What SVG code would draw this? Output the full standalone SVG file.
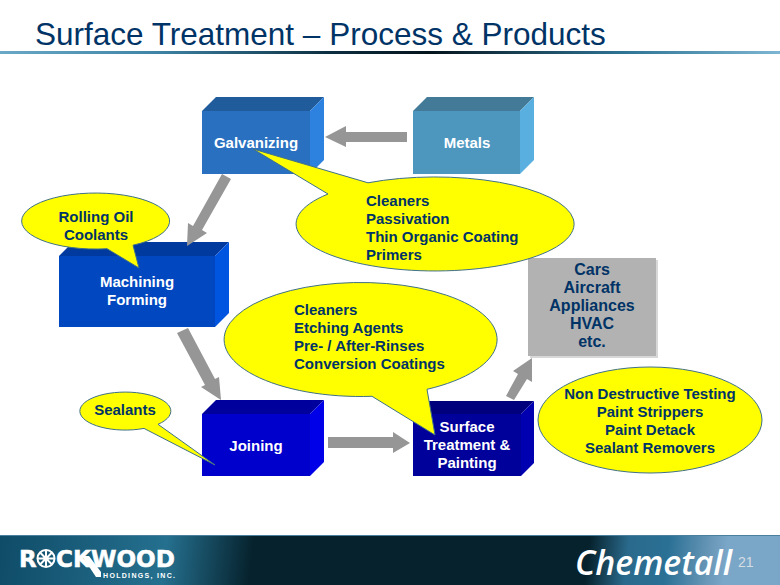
<svg xmlns="http://www.w3.org/2000/svg" width="780" height="585" viewBox="0 0 780 585">
  <defs>
    <linearGradient id="rule" x1="0" y1="0" x2="1" y2="0">
      <stop offset="0" stop-color="#6aa8c6"/>
      <stop offset="0.2" stop-color="#3f84a6"/>
      <stop offset="0.42" stop-color="#0c2f42"/>
      <stop offset="0.55" stop-color="#05141c"/>
      <stop offset="0.8" stop-color="#2f7495"/>
      <stop offset="1" stop-color="#7db6d2"/>
    </linearGradient>
    <linearGradient id="band" x1="0" y1="0" x2="780" y2="90" gradientUnits="userSpaceOnUse">
      <stop offset="0" stop-color="#2a6a8a"/>
      <stop offset="0.08" stop-color="#0f4c68"/>
      <stop offset="0.29" stop-color="#25708f"/>
      <stop offset="0.4" stop-color="#06222d"/>
      <stop offset="0.825" stop-color="#06222d"/>
      <stop offset="0.875" stop-color="#2a6a8c"/>
      <stop offset="0.925" stop-color="#2a7095"/>
      <stop offset="0.98" stop-color="#6a98b8"/>
      <stop offset="1" stop-color="#7aa6c8"/>
    </linearGradient>
  </defs>
  <style>
    text { font-family: "Liberation Sans", Arial, sans-serif; font-weight: 700; font-size: 15px; }
    .w { fill: #ffffff; text-anchor: middle; }
    .d { fill: #003366; }
    .m { text-anchor: middle; }
    .big { font-size: 16px; }
    .bubble { fill: #ffff00; stroke: #3f7089; stroke-width: 1; }
    .arrow { fill: #969696; }
    .logo { font-family: "DejaVu Sans", sans-serif; font-size: 23px; stroke: #ffffff; stroke-width: 0.5; }
  </style>

  <rect width="780" height="585" fill="#ffffff"/>

  <!-- Heading and rule -->
  <text x="35" y="45" style="font-weight:400;font-size:31.500px" fill="#003366">Surface Treatment – Process &amp; Products</text>
  <rect x="0" y="51" width="780" height="3" fill="url(#rule)"/>

  <!-- Footer band -->
  <g id="footer">
    <rect x="0" y="535" width="780" height="50" fill="url(#band)"/>
    <rect x="0" y="535" width="780" height="1" fill="#4a7f9e"/>
    <g id="rockwood-logo" fill="#ffffff">
      <text class="logo" x="19" y="567" fill="#ffffff">R</text>
      <circle cx="46" cy="558.500" r="8.500" fill="none" stroke="#ffffff" stroke-width="2"/>
      <path d="M46 550V567M37.500 558.500H54.500M40 552.500L52 564.500M52 552.500L40 564.500" stroke="#ffffff" stroke-width="2"/>
      <text class="logo" x="56" y="567" textLength="119" lengthAdjust="spacingAndGlyphs" fill="#ffffff">CKWOOD</text>
      <polygon points="82,556 89,556 101,572 101,577 96,577"/>
      <text x="103" y="578" textLength="72" style="font-size:7px" fill="#ffffff">HOLDINGS, INC.</text>
    </g>
    <text id="chemetall-logo" x="575" y="575" textLength="157" lengthAdjust="spacingAndGlyphs" style="font-family:'Open Sans',sans-serif;font-style:italic;font-weight:600;font-size:35px" fill="#ffffff">Chemetall</text>
    <text x="738" y="567" style="font-weight:400;font-size:14px" fill="#d5dde3">21</text>
  </g>

  <!-- Process steps -->
  <g id="galvanizing">
    <polygon points="202,111 216,97 324,97 310,111" fill="#205b9c"/>
    <polygon points="310,111 324,97 324,160 310,174" fill="#2d82e0"/>
    <rect x="202" y="111" width="108" height="63" fill="#2970c0"/>
    <text class="w" x="256" y="148">Galvanizing</text>
  </g>
  <g id="metals">
    <polygon points="413,111 427,97 534,97 520,111" fill="#427a98"/>
    <polygon points="520,111 534,97 534,160 520,174" fill="#58afe0"/>
    <rect x="413" y="111" width="107" height="63" fill="#4d97bf"/>
    <text class="w" x="467" y="148">Metals</text>
  </g>
  <g id="machining">
    <polygon points="59,256 73,242 229,242 215,256" fill="#003a9e"/>
    <polygon points="215,256 229,242 229,313 215,327" fill="#0055e0"/>
    <rect x="59" y="256" width="156" height="71" fill="#0047c0"/>
    <text class="w" x="137" y="287">Machining</text>
    <text class="w" x="137" y="305">Forming</text>
  </g>
  <g id="joining">
    <polygon points="202,414 216,400 324,400 310,414" fill="#00009c"/>
    <polygon points="310,414 324,400 324,462 310,476" fill="#0000e8"/>
    <rect x="202" y="414" width="108" height="62" fill="#0000cc"/>
    <text class="w" x="256" y="451">Joining</text>
  </g>
  <g id="surface-treatment">
    <polygon points="413,414 427,401 534,401 521,414" fill="#00007c"/>
    <polygon points="521,414 534,401 534,463 521,476" fill="#0000b0"/>
    <rect x="413" y="414" width="108" height="62" fill="#00009a"/>
    <text class="w" x="467" y="432">Surface</text>
    <text class="w" x="467" y="450">Treatment &amp;</text>
    <text class="w" x="467" y="468">Painting</text>
  </g>
  <g id="end-uses">
    <rect x="530" y="260" width="128" height="98" fill="#d8d8d8"/>
    <rect x="528" y="258" width="128" height="98" fill="#b2b2b2"/>
    <text class="d m big" x="592" y="275">Cars</text>
    <text class="d m big" x="592" y="293">Aircraft</text>
    <text class="d m big" x="592" y="311">Appliances</text>
    <text class="d m big" x="592" y="329">HVAC</text>
    <text class="d m big" x="592" y="347">etc.</text>
  </g>

  <!-- Flow arrows -->
  <g id="connectors" class="arrow">
    <polygon points="407,132 346,132 346,126 325,137 346,147 346,142 407,142"/>
    <polygon points="222,174 231,179 202,230 207,233 187,246 188,223 193,226"/>
    <polygon points="177,333 188,328 215,379 219,377 221,400 201,387 205,385"/>
    <polygon points="328,437 393,437 393,432 410,443 393,453 393,448 328,448"/>
    <polygon points="506,396 514,400 527,379 532,382 532,358 513,371 518,374"/>
  </g>

  <!-- Callouts -->
  <g id="callout-galvanizing">
    <path class="bubble" d="M368 182.800L253 149L328 194A139 47 0 1 0 368 182.800Z"/>
    <text class="d" x="366" y="206">Cleaners</text>
    <text class="d" x="366" y="224">Passivation</text>
    <text class="d" x="366" y="242">Thin Organic Coating</text>
    <text class="d" x="366" y="260">Primers</text>
  </g>
  <g id="callout-machining">
    <path class="bubble" d="M107 248.700L139 268L133 245.200A74 28 0 1 0 107 248.700Z"/>
    <text class="d m" x="96" y="222">Rolling Oil</text>
    <text class="d m" x="96" y="240">Coolants</text>
  </g>
  <g id="callout-joining">
    <path class="bubble" d="M144 428.400L215 465L158 424.300A45.500 19 0 1 0 144 428.400Z"/>
    <text class="d m" x="125" y="415">Sealants</text>
  </g>
  <g id="callout-surface">
    <path class="bubble" d="M372 396.300L435 435L427 389.300A136.500 57 0 1 0 372 396.300Z"/>
    <text class="d" x="294" y="315">Cleaners</text>
    <text class="d" x="294" y="333">Etching Agents</text>
    <text class="d" x="294" y="351">Pre- / After-Rinses</text>
    <text class="d" x="294" y="369">Conversion Coatings</text>
  </g>
  <g id="callout-end-uses">
    <ellipse class="bubble" cx="650" cy="420" rx="112" ry="53"/>
    <text class="d m" x="650" y="399">Non Destructive Testing</text>
    <text class="d m" x="650" y="417">Paint Strippers</text>
    <text class="d m" x="650" y="435">Paint Detack</text>
    <text class="d m" x="650" y="453">Sealant Removers</text>
  </g>
</svg>
